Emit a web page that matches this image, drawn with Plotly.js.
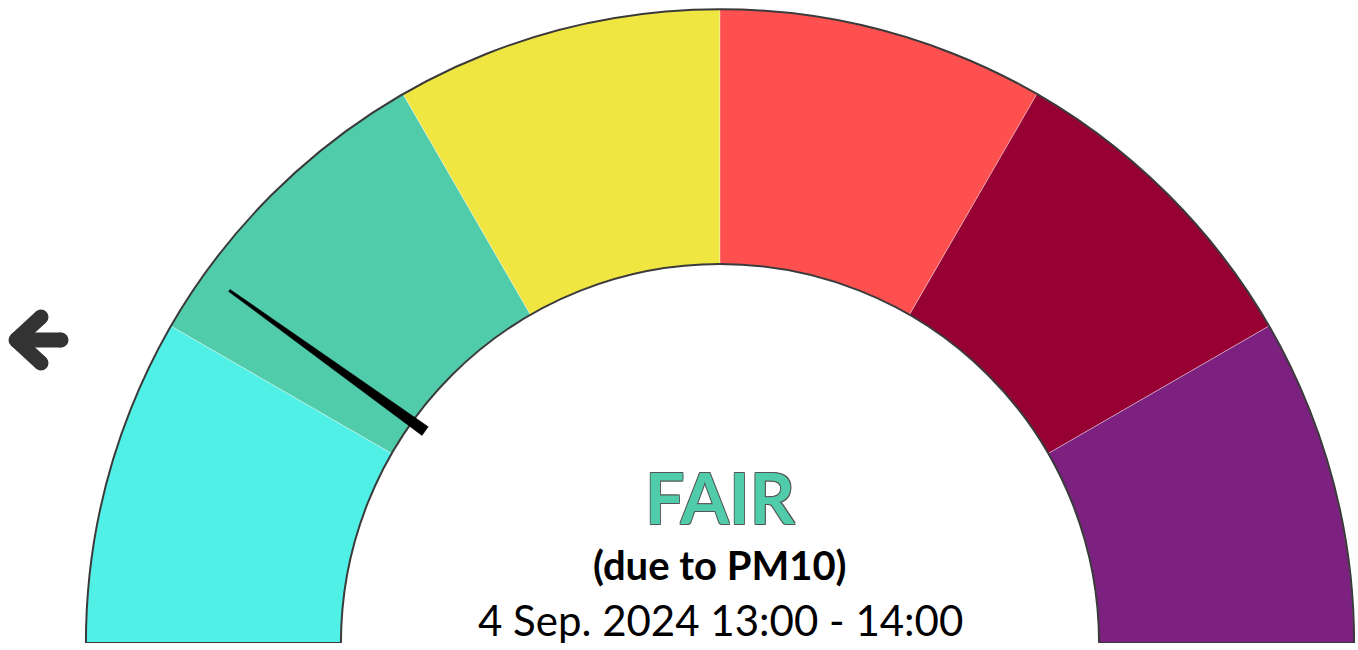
<!DOCTYPE html>
<html>
<head>
<meta charset="utf-8">
<script src="https://cdn.plot.ly/plotly-3.0.1.min.js"></script>
<style>
  html, body { margin: 0; padding: 0; background: #ffffff; }
  #chart { width: 1358px; height: 650px; }
</style>
</head>
<body>
<div id="chart"></div>
<script>
// ---- data ----
const categories = ['Good', 'Fair', 'Moderate', 'Poor', 'Very poor', 'Extremely poor'];
const categorySpan = [1, 1, 1, 1, 1, 1];
const needleValue = 1.19;            // position on the category scale (0 .. 6)
const statusLabel = 'FAIR';
const pollutantLabel = '(due to PM10)';
const periodLabel = '4 Sep. 2024 13:00 - 14:00';

// ---- style ----
const bandColors = ['#50F0E6', '#50CCAA', '#F0E641', '#FF5050', '#960032', '#7D2181'];
const statusColor = '#50CCAA';
const innerR = 0.596, outerR = 0.997;
const needleInner = 0.571, needleOuter = 0.950;
const needleBaseHalf = 0.85, needleTipHalf = 0.12; // degrees

const total = categorySpan.reduce((a, b) => a + b, 0);
const k = 180 / total;
const thetas = [], widths = [];
let cum = 0;
categorySpan.forEach(s => {
  thetas.push(180 - (cum + s / 2) * k);
  widths.push(s * k);
  cum += s;
});

const bands = {
  type: 'barpolar',
  theta: thetas,
  width: widths,
  r: categories.map(() => outerR - innerR),
  base: categories.map(() => innerR),
  text: categories,
  marker: { color: bandColors, line: { color: 'rgba(255,255,255,0.45)', width: 0.8 } },
  hoverinfo: 'text',
  showlegend: false
};

const outline = {
  type: 'barpolar',
  theta: [90],
  width: [180],
  r: [outerR - innerR],
  base: [innerR],
  marker: { color: 'rgba(0,0,0,0)', line: { color: '#3a3a3a', width: 2 } },
  hoverinfo: 'skip',
  showlegend: false
};

const na = 180 - needleValue * k;
const needle = {
  type: 'scatterpolar',
  mode: 'lines',
  theta: [na + needleBaseHalf, na + needleTipHalf, na - needleTipHalf, na - needleBaseHalf, na + needleBaseHalf],
  r: [needleInner, needleOuter, needleOuter, needleInner, needleInner],
  fill: 'toself',
  fillcolor: '#000000',
  line: { color: '#000000', width: 0.5 },
  hoverinfo: 'skip',
  showlegend: false
};

const anchor = { type: 'scatter', x: [], y: [], xaxis: 'x', yaxis: 'y', hoverinfo: 'skip', showlegend: false };

const arrowColor = '#333333';
const aw = 15, ar = 7.5;
const arrowPts = { tip: [16, 340], up: [41, 317], down: [41, 363], tail: [61, 340] };
const shapes = [];
['up', 'down', 'tail'].forEach(key => {
  shapes.push({ type: 'line', xref: 'x', yref: 'y', x0: arrowPts.tip[0], y0: arrowPts.tip[1],
    x1: arrowPts[key][0], y1: arrowPts[key][1], line: { color: arrowColor, width: aw } });
});
Object.values(arrowPts).forEach(p => {
  shapes.push({ type: 'circle', xref: 'x', yref: 'y', x0: p[0] - ar, x1: p[0] + ar, y0: p[1] - ar, y1: p[1] + ar,
    fillcolor: arrowColor, line: { width: 0 } });
});

const layout = {
  width: 1358, height: 650,
  margin: { l: 0, r: 0, t: 0, b: 0, pad: 0 },
  paper_bgcolor: '#ffffff',
  plot_bgcolor: 'rgba(0,0,0,0)',
  showlegend: false,
  font: { family: 'Lato, sans-serif' },
  xaxis: { range: [0, 1358], visible: false, fixedrange: true, domain: [0, 1] },
  yaxis: { range: [650, 0], visible: false, fixedrange: true, domain: [0, 1] },
  polar: {
    domain: { x: [84 / 1358, 1356 / 1358], y: [7 / 650, 643 / 650] },
    sector: [0, 180],
    bgcolor: 'rgba(0,0,0,0)',
    bargap: 0,
    radialaxis: { visible: false, range: [0, 1] },
    angularaxis: { visible: false, showline: false, showgrid: false }
  },
  shapes: shapes,
  annotations: [
    { xref: 'x', yref: 'y', x: 720, y: 497, text: '<b>' + statusLabel + '</b>', showarrow: false,
      xanchor: 'center', yanchor: 'middle',
      font: { family: 'Lato, sans-serif', size: 70, color: statusColor,
              shadow: '0.8px 0.8px 0.6px #555, -0.8px -0.8px 0.6px #555, 0.8px -0.8px 0.6px #555, -0.8px 0.8px 0.6px #555' } },
    { xref: 'x', yref: 'y', x: 720, y: 565, text: '<b>' + pollutantLabel + '</b>', showarrow: false,
      xanchor: 'center', yanchor: 'middle',
      font: { family: 'Lato, sans-serif', size: 40, color: '#000000' } },
    { xref: 'x', yref: 'y', x: 720, y: 620, text: periodLabel, showarrow: false,
      xanchor: 'center', yanchor: 'middle',
      font: { family: 'Lato, sans-serif', size: 42, color: '#000000' } }
  ]
};

Plotly.newPlot('chart', [anchor, bands, outline, needle], layout, { displayModeBar: false, staticPlot: true });
</script>
</body>
</html>
